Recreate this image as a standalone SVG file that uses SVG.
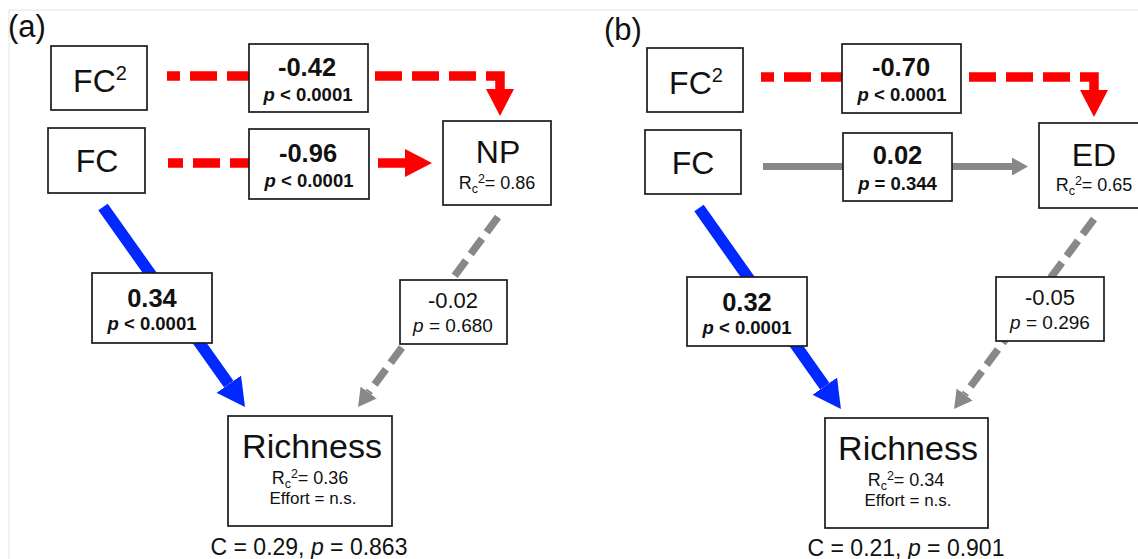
<svg xmlns="http://www.w3.org/2000/svg" width="1138" height="559" viewBox="0 0 1138 559">
<style>
text{font-family:"Liberation Sans",Arial,sans-serif;fill:#111;text-anchor:middle}
.box{fill:#fff;stroke:#1a1a1a;stroke-width:1.7}
.nm{font-size:32px}
.rich{font-size:34px}
.num{font-size:25.5px;font-weight:bold}
.pb{font-size:18.5px;font-weight:bold}
.numn{font-size:22px}
.pn{font-size:19px}
.r2{font-size:18px}
.eff{font-size:17px}
.c{font-size:23px}
.sub{font-size:12.5px}
.panel{font-size:31px;text-anchor:start}
.it{font-style:italic}
.red{fill:none;stroke:#ff0000;stroke-width:9.5;stroke-dasharray:27 10}
.blue{fill:none;stroke:#0028ff;stroke-width:11.5}
.gdash{fill:none;stroke:#888;stroke-width:7.5;stroke-dasharray:19 8}
.gsolid{fill:none;stroke:#888;stroke-width:7}
</style>
<defs>
<marker id="hRed" viewBox="0 -14 27 28" refX="0" refY="0" markerWidth="27" markerHeight="28" markerUnits="userSpaceOnUse" orient="auto-start-reverse"><path d="M0,-14 L27,0 L0,14 Z" fill="#ff0000"/></marker>
<marker id="hBlue" viewBox="0 -15 28 30" refX="0" refY="0" markerWidth="28" markerHeight="30" markerUnits="userSpaceOnUse" orient="auto"><path d="M0,-15 L28,0 L0,15 Z" fill="#0028ff"/></marker>
<marker id="hGrayD" viewBox="0 -10 18 20" refX="0" refY="0" markerWidth="18" markerHeight="20" markerUnits="userSpaceOnUse" orient="auto"><path d="M0,-10 L18,0 L0,10 Z" fill="#888"/></marker>
<marker id="hGrayS" viewBox="0 -9 16 18" refX="0" refY="0" markerWidth="16" markerHeight="18" markerUnits="userSpaceOnUse" orient="auto"><path d="M0,-9 L16,0 L0,9 Z" fill="#888"/></marker>
</defs>
<rect x="0" y="0" width="1138" height="559" fill="#fff"/>
<path d="M9,559 V10 H1138" fill="none" stroke="#eceef4" stroke-width="1.5"/>

<text class="panel" x="8" y="37">(a)</text>
<text class="panel" x="604" y="40">(b)</text>

<g id="connectors">
  <!-- panel a -->
  <path class="red" d="M500,89 V76 H167" marker-start="url(#hRed)"/>
  <path class="red" d="M405,163 H168" marker-start="url(#hRed)"/>
  <path class="blue" d="M103,207 L228.8,384.2" marker-end="url(#hBlue)"/>
  <path class="gdash" d="M498,217 L368.7,392.5" marker-end="url(#hGrayD)"/>
  <!-- panel b -->
  <path class="red" d="M1094,90 V77 H761" marker-start="url(#hRed)"/>
  <path class="gsolid" d="M763,166.5 H1012" marker-end="url(#hGrayS)"/>
  <path class="blue" d="M699,208 L824.8,386.2" marker-end="url(#hBlue)"/>
  <path class="gdash" d="M1094,219 L964.7,394.5" marker-end="url(#hGrayD)"/>
</g>

<g id="edge-labels">
  <g id="lab-a-fc2-np">
    <rect class="box" x="249" y="44" width="119" height="68"/>
    <text class="num" x="307" y="76">-0.42</text>
    <text class="pb" x="308" y="101"><tspan class="it">p</tspan> &lt; 0.0001</text>
  </g>
  <g id="lab-a-fc-np">
    <rect class="box" x="249" y="129" width="120" height="70"/>
    <text class="num" x="308" y="162">-0.96</text>
    <text class="pb" x="309" y="187"><tspan class="it">p</tspan> &lt; 0.0001</text>
  </g>
  <g id="lab-a-fc-rich">
    <rect class="box" x="92" y="273" width="120" height="70"/>
    <text class="num" x="152" y="307">0.34</text>
    <text class="pb" x="152" y="330"><tspan class="it">p</tspan> &lt; 0.0001</text>
  </g>
  <g id="lab-a-np-rich">
    <rect class="box" x="400" y="280" width="107" height="64"/>
    <text class="numn" x="453" y="308">-0.02</text>
    <text class="pn" x="453" y="332"><tspan class="it">p</tspan> = 0.680</text>
  </g>
  <g id="lab-b-fc2-ed">
    <rect class="box" x="842" y="44" width="119" height="69"/>
    <text class="num" x="901" y="76">-0.70</text>
    <text class="pb" x="902" y="101"><tspan class="it">p</tspan> &lt; 0.0001</text>
  </g>
  <g id="lab-b-fc-ed">
    <rect class="box" x="843" y="133" width="109" height="68"/>
    <text class="num" x="897.5" y="164">0.02</text>
    <text class="pb" x="897.5" y="190"><tspan class="it">p</tspan> = 0.344</text>
  </g>
  <g id="lab-b-fc-rich">
    <rect class="box" x="687" y="277" width="120" height="69"/>
    <text class="num" x="747" y="311">0.32</text>
    <text class="pb" x="747" y="334"><tspan class="it">p</tspan> &lt; 0.0001</text>
  </g>
  <g id="lab-b-ed-rich">
    <rect class="box" x="996" y="277" width="108" height="64"/>
    <text class="numn" x="1050" y="305">-0.05</text>
    <text class="pn" x="1050" y="329"><tspan class="it">p</tspan> = 0.296</text>
  </g>
</g>

<!-- panel a nodes -->
<g id="a-FC2">
  <rect class="box" x="51" y="46" width="96" height="64"/>
  <text class="nm" x="100" y="92">FC<tspan font-size="20" dy="-12">2</tspan></text>
</g>
<g id="a-FC">
  <rect class="box" x="48" y="128" width="97" height="65"/>
  <text class="nm" x="97" y="172">FC</text>
</g>
<g id="a-NP">
  <rect class="box" x="443" y="121" width="108" height="84"/>
  <text class="nm" x="498" y="163">NP</text>
  <text class="r2" x="497" y="189">R<tspan class="sub" dy="4">c</tspan><tspan class="sub" dy="-10">2</tspan><tspan dy="6">= 0.86</tspan></text>
</g>
<g id="a-Richness">
  <rect class="box" x="228" y="416" width="164" height="110"/>
  <text class="rich" x="312" y="458">Richness</text>
  <text class="r2" x="310" y="484">R<tspan class="sub" dy="4">c</tspan><tspan class="sub" dy="-10">2</tspan><tspan dy="6">= 0.36</tspan></text>
  <text class="eff" x="313" y="504">Effort = n.s.</text>
</g>
<text class="c" x="309" y="555">C = 0.29, <tspan class="it">p</tspan> = 0.863</text>

<!-- panel b nodes -->
<g id="b-FC2">
  <rect class="box" x="647" y="48" width="96" height="64"/>
  <text class="nm" x="696" y="94">FC<tspan font-size="20" dy="-12">2</tspan></text>
</g>
<g id="b-FC">
  <rect class="box" x="645" y="130" width="96" height="64"/>
  <text class="nm" x="693" y="174">FC</text>
</g>
<g id="b-ED">
  <rect class="box" x="1039" y="123" width="108" height="85"/>
  <text class="nm" x="1094" y="166">ED</text>
  <text class="r2" x="1094" y="191">R<tspan class="sub" dy="4">c</tspan><tspan class="sub" dy="-10">2</tspan><tspan dy="6">= 0.65</tspan></text>
</g>
<g id="b-Richness">
  <rect class="box" x="825" y="418" width="163" height="110"/>
  <text class="rich" x="908" y="460">Richness</text>
  <text class="r2" x="906" y="486">R<tspan class="sub" dy="4">c</tspan><tspan class="sub" dy="-10">2</tspan><tspan dy="6">= 0.34</tspan></text>
  <text class="eff" x="908" y="506">Effort = n.s.</text>
</g>
<text class="c" x="906" y="556">C = 0.21, <tspan class="it">p</tspan> = 0.901</text>
</svg>
